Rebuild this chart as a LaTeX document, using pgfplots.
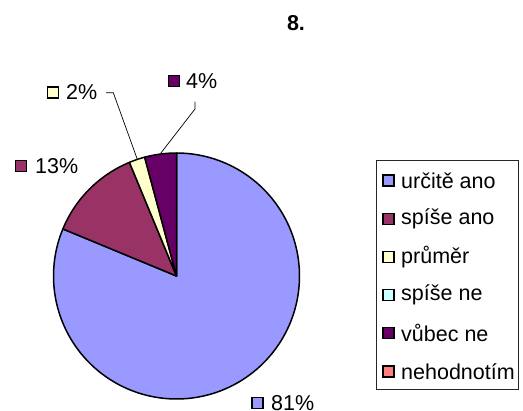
\documentclass[border=0pt]{standalone}
\usepackage{pgfplots}
\usepackage{pgfplotstable}
\pgfplotsset{compat=1.18}
\usepackage{fontspec}
\setmainfont{Liberation Sans}
\definecolor{cA}{HTML}{9999FF}
\definecolor{cB}{HTML}{993366}
\definecolor{cC}{HTML}{FFFFCC}
\definecolor{cD}{HTML}{CCFFFF}
\definecolor{cE}{HTML}{660066}
\definecolor{cF}{HTML}{FF8080}
\pgfplotstableread{
count
39
6
1
0
2
0
}\pietable
\newcommand\lf{\fontsize{21.5bp}{24bp}\selectfont}
\newcommand\pieslice[3]{%
  \addplot[fill=#3, draw=black, line width=1.5bp, line join=round,
    domain=#1:#2, samples=150, variable=\t]
    ({176.5+123*sin(t)},{276-123*cos(t)}) -- (axis cs:176.5,276) -- cycle;}
\begin{document}
\begin{tikzpicture}
\pgfplotstablegetelem{0}{count}\of\pietable \edef\nA{\pgfplotsretval}
\pgfplotstablegetelem{1}{count}\of\pietable \edef\nB{\pgfplotsretval}
\pgfplotstablegetelem{2}{count}\of\pietable \edef\nC{\pgfplotsretval}
\pgfplotstablegetelem{3}{count}\of\pietable \edef\nD{\pgfplotsretval}
\pgfplotstablegetelem{4}{count}\of\pietable \edef\nE{\pgfplotsretval}
\pgfplotstablegetelem{5}{count}\of\pietable \edef\nF{\pgfplotsretval}
\pgfmathsetmacro\tot{\nA+\nB+\nC+\nD+\nE+\nF}
\pgfmathsetmacro\eA{360*\nA/\tot}
\pgfmathsetmacro\eB{\eA+360*\nB/\tot}
\pgfmathsetmacro\eC{\eB+360*\nC/\tot}
\pgfmathsetmacro\eD{\eC+360*\nD/\tot}
\pgfmathsetmacro\eE{\eD+360*\nE/\tot}
\begin{axis}[
  width=523bp, height=410bp, scale only axis,
  xmin=0, xmax=523, ymin=0, ymax=410, y dir=reverse,
  hide axis, clip=false, enlargelimits=false,
]
\path (axis cs:0,0) rectangle (axis cs:523,410);
\pieslice{0}{\eA}{cA}
\pieslice{\eA}{\eB}{cB}
\pieslice{\eB}{\eC}{cC}
\pieslice{\eD}{\eE}{cE}
% leader lines
\addplot[black, line width=0.7bp] coordinates {(106,92.7) (113.3,92.7) (137.3,159.3)};
\addplot[black, line width=0.7bp] coordinates {(195,101.7) (195,109) (160.7,153.3)};
% data label markers
\addplot[only marks, mark=square*, mark size=5.5bp, mark options={fill=cA, draw=black, line width=1.2bp}] coordinates {(257.5,403)};
\addplot[only marks, mark=square*, mark size=5.5bp, mark options={fill=cB, draw=black, line width=1.2bp}] coordinates {(21,166)};
\addplot[only marks, mark=square*, mark size=5.5bp, mark options={fill=cC, draw=black, line width=1.2bp}] coordinates {(53,92.5)};
\addplot[only marks, mark=square*, mark size=5.5bp, mark options={fill=cE, draw=black, line width=1.2bp}] coordinates {(174,81)};
\node[anchor=west, inner sep=0pt, font=\lf] at (axis cs:271,403) {81\%};
\node[anchor=west, inner sep=0pt, font=\lf] at (axis cs:35,166) {13\%};
\node[anchor=west, inner sep=0pt, font=\lf] at (axis cs:66,92.5) {2\%};
\node[anchor=west, inner sep=0pt, font=\lf] at (axis cs:186,81) {4\%};
% title
\node[font=\lf\bfseries, inner sep=0pt] at (axis cs:296,23) {8.};
% legend
\draw[black!85, line width=1bp] (axis cs:376,160) rectangle (axis cs:518,389);
\addplot[only marks, mark=square*, mark size=5.5bp, mark options={fill=cA, draw=black, line width=1.2bp}] coordinates {(388.5,180.5)};
\addplot[only marks, mark=square*, mark size=5.5bp, mark options={fill=cB, draw=black, line width=1.2bp}] coordinates {(388.5,218.7)};
\addplot[only marks, mark=square*, mark size=5.5bp, mark options={fill=cC, draw=black, line width=1.2bp}] coordinates {(388.5,256.9)};
\addplot[only marks, mark=square*, mark size=5.5bp, mark options={fill=cD, draw=black, line width=1.2bp}] coordinates {(388.5,295.1)};
\addplot[only marks, mark=square*, mark size=5.5bp, mark options={fill=cE, draw=black, line width=1.2bp}] coordinates {(388.5,333.3)};
\addplot[only marks, mark=square*, mark size=5.5bp, mark options={fill=cF, draw=black, line width=1.2bp}] coordinates {(388.5,371.5)};
\node[anchor=west, inner sep=0pt, font=\lf] at (axis cs:401,180.5) {určitě ano};
\node[anchor=west, inner sep=0pt, font=\lf] at (axis cs:401,218.7) {spíše ano};
\node[anchor=west, inner sep=0pt, font=\lf] at (axis cs:401,256.9) {průměr};
\node[anchor=west, inner sep=0pt, font=\lf] at (axis cs:401,295.1) {spíše ne};
\node[anchor=west, inner sep=0pt, font=\lf] at (axis cs:401,333.3) {vůbec ne};
\node[anchor=west, inner sep=0pt, font=\lf] at (axis cs:401,371.5) {nehodnotím};
\end{axis}
\end{tikzpicture}
\end{document}
